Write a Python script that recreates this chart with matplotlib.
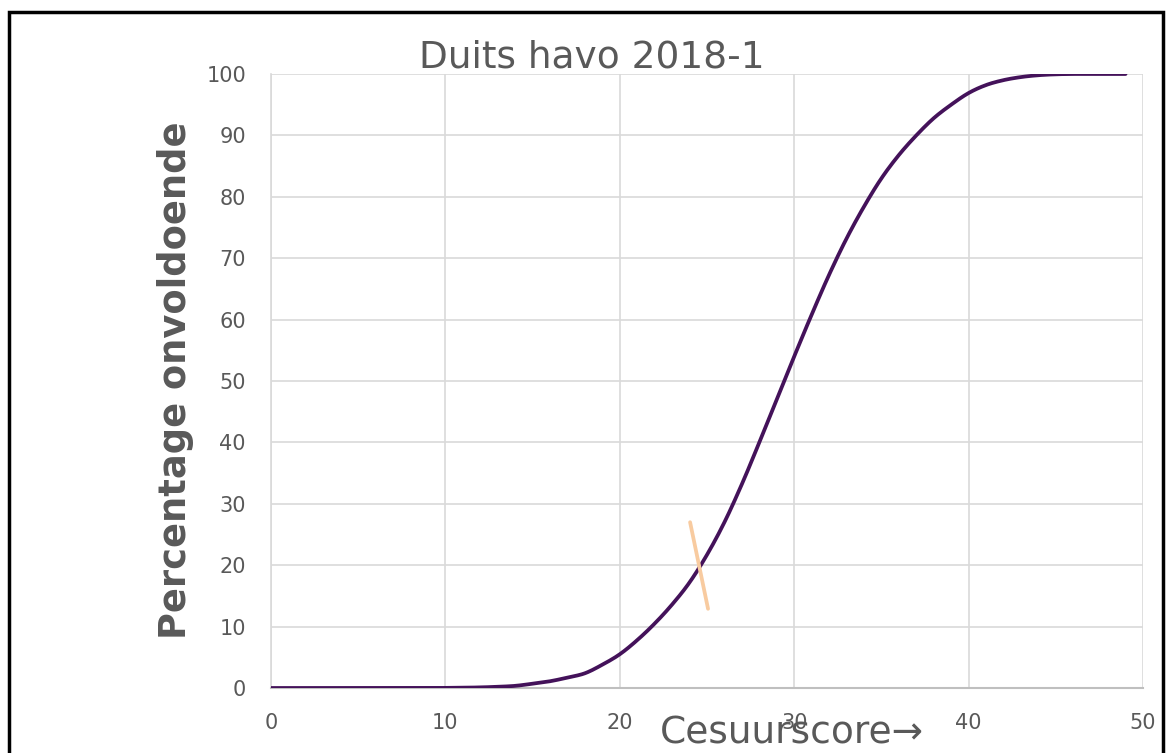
import matplotlib
matplotlib.use("Agg")
import matplotlib.pyplot as plt
from matplotlib.patches import Rectangle
import numpy as np

# Data
scores = list(range(0, 50))
pct_onvoldoende = [0, 0, 0, 0, 0, 0, 0, 0, 0, 0,
                   0.02, 0.05, 0.1, 0.2, 0.35, 0.7, 1.1, 1.7, 2.4, 3.8,
                   5.5, 7.8, 10.5, 13.6, 17.2, 21.7, 27.0, 33.2, 40.0, 47.0,
                   54.0, 60.8, 67.3, 73.2, 78.4, 83.0, 86.8, 90.0, 92.8, 95.0,
                   96.9, 98.2, 99.0, 99.5, 99.8, 99.95, 100, 100, 100, 100]
cesuur_x = [24.03, 25.06]
cesuur_y = [27.0, 12.9]

title = "Duits havo 2018-1"
ylabel = "Percentage onvoldoende"
xlabel = "Cesuurscore\u2192"
xticks = [0, 10, 20, 30, 40, 50]
yticks = list(range(0, 101, 10))


def smooth(xs, ys, n=12):
    """Catmull-Rom drawing of a smoothed line through the data points."""
    xs = np.asarray(xs, float)
    ys = np.asarray(ys, float)
    P = np.column_stack([xs, ys])
    P = np.vstack([P[0], P, P[-1]])
    out = []
    t = np.linspace(0, 1, n, endpoint=False)[:, None]
    for i in range(1, len(P) - 2):
        p0, p1, p2, p3 = P[i - 1], P[i], P[i + 1], P[i + 2]
        seg = 0.5 * ((2 * p1) + (-p0 + p2) * t + (2 * p0 - 5 * p1 + 4 * p2 - p3) * t ** 2
                     + (-p0 + 3 * p1 - 3 * p2 + p3) * t ** 3)
        out.append(seg)
    out.append(P[-2][None, :])
    out = np.vstack(out)
    return out[:, 0], out[:, 1]


fig = plt.figure(figsize=(11.68, 7.53), dpi=100)
W, H = 1168, 753
x0, x1 = 271, 1143
y0, y1 = 688, 74
ax = fig.add_axes([x0 / W, 1 - y0 / H, (x1 - x0) / W, (y0 - y1) / H])

grid_c = "#D9D9D9"
txt_c = "#595959"

sx, sy = smooth(scores, pct_onvoldoende)
ax.plot(sx, sy, color="#44125A", lw=2.7, solid_capstyle="round", zorder=3)
ax.plot(cesuur_x, cesuur_y, color="#F8CBA0", lw=2.7, solid_capstyle="round", zorder=4)

ax.set_xlim(0, 50)
ax.set_ylim(0, 100)
ax.set_xticks(xticks)
ax.set_yticks(yticks)
ax.grid(True, color=grid_c, lw=1.2)
ax.set_axisbelow(True)
for s in ["top", "right"]:
    ax.spines[s].set_visible(False)
ax.spines["left"].set_color(grid_c)
ax.spines["left"].set_linewidth(1.2)
ax.spines["bottom"].set_color("#BFBFBF")
ax.spines["bottom"].set_linewidth(1.5)
ax.tick_params(length=0, colors=txt_c, labelsize=15)
ax.tick_params(axis="y", pad=18)
ax.tick_params(axis="x", pad=18)

fig.text(592 / W, 1 - 58 / H, title, ha="center", va="center", fontsize=27, color=txt_c)
fig.text(176 / W, 1 - 380 / H, ylabel, ha="center", va="center", rotation=90,
         fontsize=26.5, fontweight="bold", color=txt_c)
fig.text(792 / W, 1 - 733 / H, xlabel, ha="center", va="center", fontsize=27, color=txt_c)

fig.patches.append(Rectangle((9 / W, -0.1), (1163 - 9) / W, 1.1 - 12 / H,
                             transform=fig.transFigure, fill=False,
                             edgecolor="black", lw=2.5, zorder=10))

fig.savefig("out.png", dpi=100)
